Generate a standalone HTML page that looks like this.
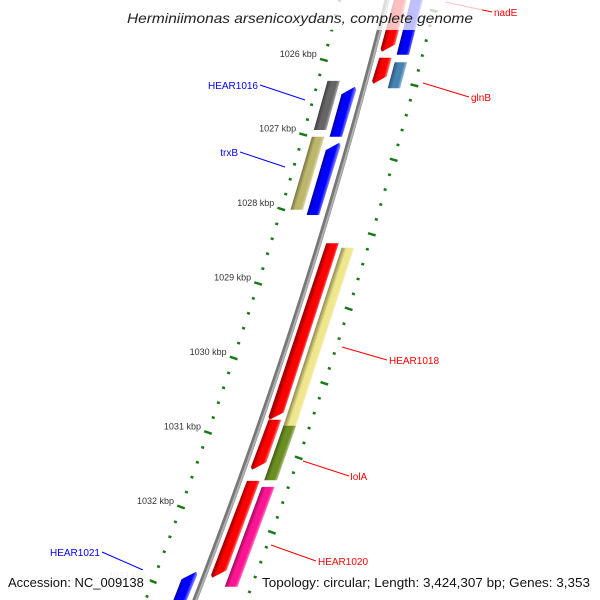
<!DOCTYPE html>
<html><head><meta charset="utf-8">
<style>
html,body{margin:0;padding:0;background:#fff;width:600px;height:600px;overflow:hidden}
svg{display:block;font-family:"Liberation Sans","DejaVu Sans",sans-serif}
</style></head>
<body>
<svg id="map" width="600" height="600" viewBox="0 0 600 600">
<defs></defs>
<g id="ticks"></g>
<g id="backbone"></g>
<g id="genes"></g>
<g id="labels"></g>
<rect x="118" y="0" width="364" height="30" fill="#fff" opacity="0.75"/>
<text x="127" y="23" textLength="346" lengthAdjust="spacingAndGlyphs" font-size="14" font-style="italic" fill="#222">Herminiimonas arsenicoxydans, complete genome</text>
<rect x="0" y="570" width="150" height="24" fill="#fff" opacity="0.75"/>
<text x="8" y="587" font-size="13" fill="#111">Accession: NC_009138</text>
<text x="262" y="587" textLength="328" lengthAdjust="spacingAndGlyphs" font-size="13" fill="#111">Topology: circular; Length: 3,424,307 bp; Genes: 3,353</text>
</svg>
<script>
// ---- data (kbp) ----
const geneStarts = [1025.0, 1025.0, 1025.97, 1026.03, 1026.28, 1026.36, 1027.03, 1027.11, 1028.46, 1028.52, 1030.83, 1030.91, 1031.65, 1031.73, 1032.87];
const geneEnds   = [1025.89, 1025.93, 1026.32, 1026.38, 1026.94, 1027.03, 1028.01, 1028.08, 1030.83, 1030.94, 1031.50, 1031.64, 1032.95, 1033.07, 1033.6];
const geneLanes  = ['R1','R2','R1','R2','L2','L1','L2','L1','R1','R2','R1','R2','R1','R2','L1'];
const geneColors = ['#ff0000','#0000ff','#ff0000','#4682b4','#666666','#0000ff','#bdb76b','#0000ff','#ff0000','#f0e68c','#ff0000','#6b8e23','#ff0000','#ff1493','#0000ff'];
const geneNames  = ['nadE-region','nadE','glnB-neighbor','glnB','HEAR1016-gray','HEAR1016','trxB-partner','trxB','HEAR1018-red','HEAR1018','iolA-red','iolA','HEAR1020-red','HEAR1020','HEAR1021'];
const tickLabels = [1026,1027,1028,1029,1030,1031,1032,1033];
const outerMajorStart = 1025.34;

const NS='http://www.w3.org/2000/svg';
function el(t,a,p){const e=document.createElementNS(NS,t);for(const k in a)e.setAttribute(k,a[k]);p.appendChild(e);return e;}
// axis: kbp -> screen y ; backbone x(y)
function yOf(k){return 60+(k-1026)*74.5;}
function bx(y){return 387-0.2524*y-0.0001128*y*y;}
function dbx(y){return -0.2524-2*0.0001128*y;}
function frameAt(y){const d=dbx(y);const L=Math.hypot(d,1);
  return {x:bx(y),y:y,tx:d/L,ty:1/L,nx:1/L,ny:-d/L};}
// point at offset off such that its screen y equals yOf(k)
function base(k,off){const ty=yOf(k);let y=ty;for(let i=0;i<4;i++){const f=frameAt(y);y=ty-f.ny*off;}return frameAt(y);}
function pt(k,off){const f=base(k,off);return [f.x+f.nx*off,f.y+f.ny*off];}
function frame(k,off){return base(k,off||0);}
const laneOff={L2:-31,L1:-14,R1:13,R2:29};
const laneW={L2:12,L1:12,R1:12,R2:12};

// backbone
const bb=document.getElementById('backbone');
let dd='';for(let y=-10;y<=610;y+=10){dd+=(y===-10?'M':'L')+bx(y).toFixed(2)+' '+y+' ';}
const b1=el('path',{d:dd,stroke:'#777',"stroke-width":5,fill:'none'},bb);


const b2=el('path',{d:dd,stroke:'#b0b0b0',"stroke-width":2,fill:'none',transform:'translate(1.2,0)'},bb);



// ticks
const tg=document.getElementById('ticks');
function tick(k,off,len,w){const f=frame(k,off);const c=pt(k,off);
  return el('line',{x1:c[0]-f.nx*len/2,y1:c[1]-f.ny*len/2,x2:c[0]+f.nx*len/2,y2:c[1]+f.ny*len/2,stroke:'#1a7a1a',"stroke-width":w},tg);}
for(let i=-5;i<=45;i++){const k=1025+i*0.2; if(yOf(k)<-5||yOf(k)>605)continue;
  const major=Math.abs(k-Math.round(k))<1e-6;
  const l=tick(k,-46,major?8:3,2.5);
  
  
}
for(let i=-5;i<=45;i++){const k=outerMajorStart+i*0.2; if(yOf(k)<-5||yOf(k)>605)continue;
  const major=(i%5===0);
  const l=tick(k,48,major?8:3,2.5);
  
  
}
tickLabels.forEach(k=>{const c=pt(k,-46);
  const t=el('text',{x:c[0]-7,y:c[1]-3,"text-anchor":"end","font-size":9,fill:'#333'},tg);
  t.textContent=k+' kbp';
  
  
  if(yOf(k)>570)t.setAttribute('opacity','0.3');
});

// genes
const gg=document.getElementById('genes');const defs=document.querySelector('defs');
function shade(c,f){const n=parseInt(c.slice(1),16);let r=n>>16,g=(n>>8)&255,b=n&255;
  const m=v=>Math.max(0,Math.min(255,Math.round(f>1?v+(255-v)*(f-1):v*f)));
  return 'rgb('+m(r)+','+m(g)+','+m(b)+')';}
geneStarts.forEach((s,i)=>{const e=geneEnds[i];const lane=geneLanes[i];const off=laneOff[lane];const w=laneW[lane];
  const arrowDown=(lane==='R1'), arrowUp=(lane==='L1');
  const a0=pt(s,off-w/2),a1=pt(s,off+w/2),b0=pt(e,off-w/2),b1p=pt(e,off+w/2);
  let pts;
  if(arrowDown){pts=[a0,a1,pt(e-0.1,off+w/2),pt(e,off-w/2+1),pt(e-0.04,off-w/2-1)];}
  else if(arrowUp){pts=[pt(s+0.1,off-w/2),pt(s,off+w/2-1),pt(s+0.04,off+w/2+1),b1p,b0];}
  else pts=[a0,a1,b1p,b0];
  const m=pt((s+e)/2,off);const f=frame((s+e)/2,off);
  const gid='gr'+i;
  const lg=el('linearGradient',{id:gid,gradientUnits:'userSpaceOnUse',x1:m[0]-f.nx*w/2,y1:m[1]-f.ny*w/2,x2:m[0]+f.nx*w/2,y2:m[1]+f.ny*w/2},defs);
  el('stop',{offset:'0',"stop-color":shade(geneColors[i],0.65)},lg);
  el('stop',{offset:'0.35',"stop-color":geneColors[i]},lg);
  el('stop',{offset:'0.75',"stop-color":geneColors[i]},lg);
  el('stop',{offset:'1',"stop-color":shade(geneColors[i],1.45)},lg);
  const p=el('polygon',{points:pts.map(q=>q[0].toFixed(1)+','+q[1].toFixed(1)).join(' '),fill:'url(#'+gid+')'},gg);
  
  
});

// labels
const lab=document.getElementById('labels');
const labelData=[
 ['nadE',494,16,'#ff0000',445,2,492,12,'start'],
 ['glnB',471,101,'#ff0000',423,83,469,97,'start'],
 ['HEAR1016',258,89,'#0000ff',305,100,260,85,'end'],
 ['trxB',238,156,'#0000ff',285,167,240,152,'end'],
 ['HEAR1018',389,364,'#ff0000',342,347,387,360,'start'],
 ['IolA',350,480,'#ff0000',303,461,349,476,'start'],
 ['HEAR1020',318,565,'#ff0000',271,545,316,561,'start'],
 ['HEAR1021',100,556,'#0000ff',143,570,102,552,'end']];
labelData.forEach(d=>{
  const l=el('line',{x1:d[4],y1:d[5],x2:d[6],y2:d[7],stroke:d[3],"stroke-width":1},lab);
  
  
  const t=el('text',{x:d[1],y:d[2],"text-anchor":d[8],"font-size":10,fill:d[3]},lab);
  t.textContent=d[0];
  
  
});
</script>
</body></html>
